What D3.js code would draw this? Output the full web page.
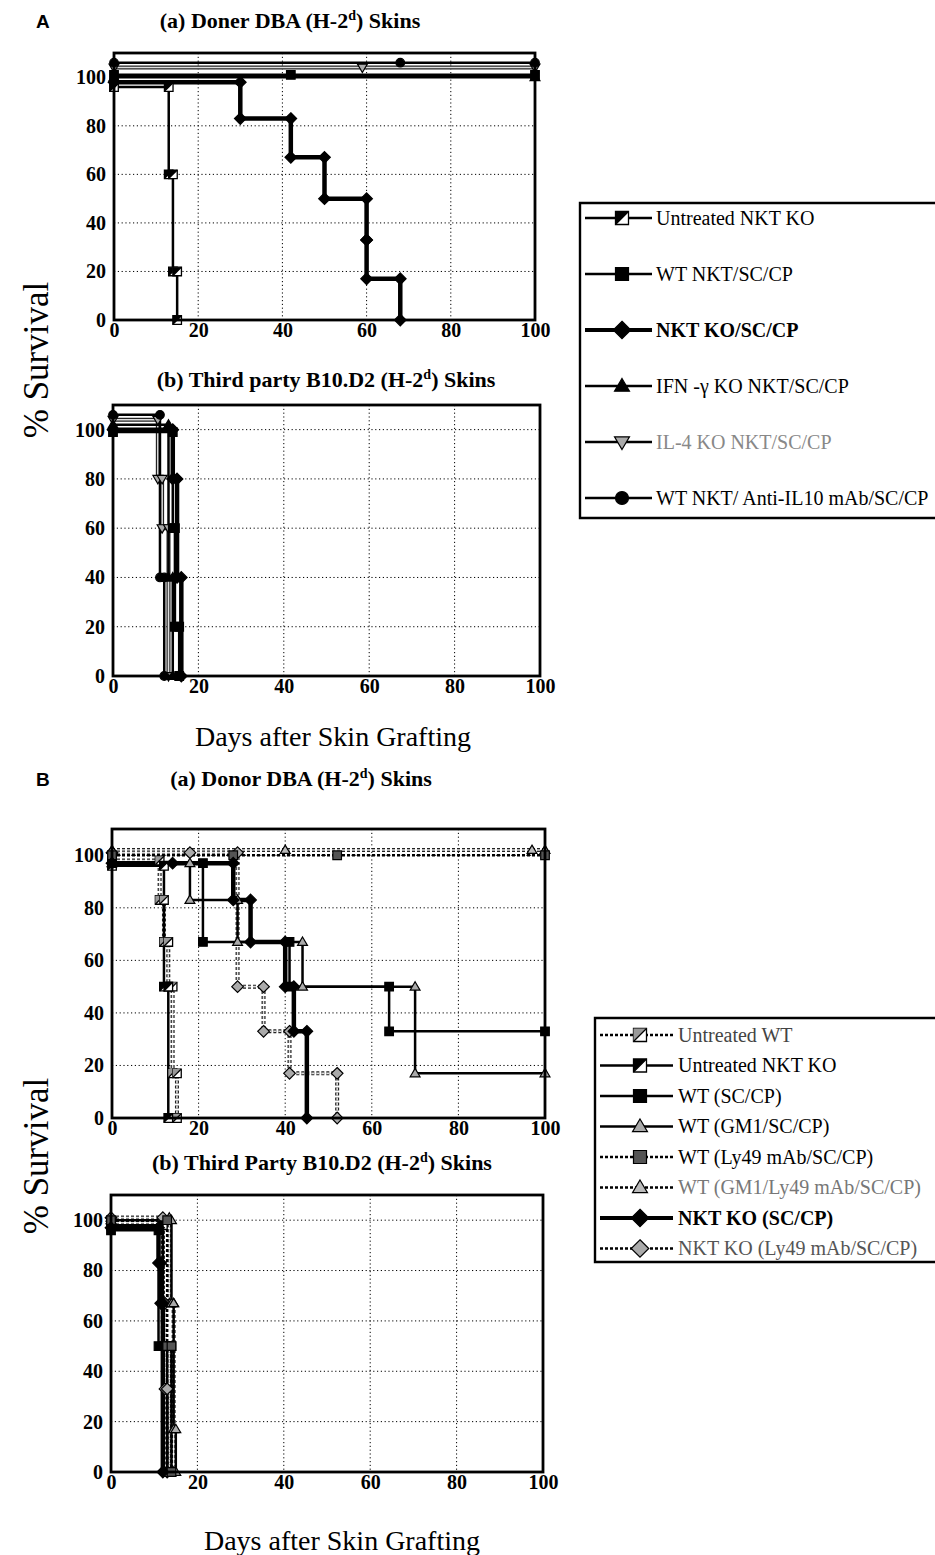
<!DOCTYPE html>
<html>
<head>
<meta charset="utf-8">
<script src="https://cdn.jsdelivr.net/npm/d3@7"></script>
<style>
body { margin: 0; background: #fff; }
svg text { font-family: "Liberation Serif", "Times New Roman", serif; fill: #000; }
.grid line { stroke: #000; stroke-width: 1; stroke-dasharray: 1.2, 2.6; }
</style>
</head>
<body>
<svg id="fig" width="935" height="1555"></svg>
<script>
// axis ticks
const dayTicks = [0, 20, 40, 60, 80, 100];
const survTicks = [0, 20, 40, 60, 80, 100];

// legend names
const namesA = ["Untreated NKT KO", "WT NKT/SC/CP", "NKT KO/SC/CP",
  "IFN -\u03b3 KO NKT/SC/CP", "IL-4 KO NKT/SC/CP", "WT NKT/ Anti-IL10 mAb/SC/CP"];
const namesB = ["Untreated WT", "Untreated NKT KO", "WT (SC/CP)", "WT (GM1/SC/CP)",
  "WT (Ly49 mAb/SC/CP)", "WT (GM1/Ly49 mAb/SC/CP)", "NKT KO (SC/CP)", "NKT KO (Ly49 mAb/SC/CP)"];

// A(a) donor skins: days and % survival at each step, one list per legend entry
const aaDays = [[0, 13, 14, 15], [0, 42, 100], [0, 30, 42, 50, 60, 60, 68], [0, 100], [0, 59, 100], [0, 68, 100]];
const aaSurv = [[96, 60, 20, 0], [101, 101, 101], [98, 83, 67, 50, 33, 17, 0], [100, 100], [104, 104, 104], [106, 106, 106]];
// A(b) third party skins
const abDays = [null, [0, 14, 14.5, 15.5], [0, 14, 15, 16], [0, 13, 14], [0, 10.5, 11.5, 13], [0, 11, 12]];
const abSurv = [null, [99, 60, 20, 0], [100, 80, 40, 0], [102, 40, 0], [104, 80, 60, 0], [106, 40, 0]];
// B(a) donor skins
const baDays = [[0, 11, 12, 13, 14, 15], [0, 12, 13], [0, 21, 41, 64, 100], [0, 18, 29, 44, 70, 100],
  [0, 28, 52, 100], [0, 40, 97, 100], [0, 14, 28, 32, 40, 42, 45], [0, 18, 29, 35, 41, 52]];
const baSurv = [[98, 83, 67, 50, 17, 0], [96, 50, 0], [97, 67, 50, 33, 33], [97, 83, 67, 50, 17, 17],
  [100, 100, 100, 100], [102, 102, 102, 102], [97, 97, 83, 67, 50, 33, 0], [101, 101, 50, 33, 17, 0]];
// B(b) third party skins
const bbDays = [[0, 12, 13.5], [0, 12, 13], [0, 11, 14], [0, 14, 14.5, 15], [0, 13, 14], [0, 13.5, 14.5],
  [0, 11, 11.5, 12], [0, 12, 12.5, 13]];
const bbSurv = [[99, 50, 0], [98, 50, 0], [96, 50, 0], [100, 67, 17, 0], [100, 50, 0], [101, 67, 0],
  [97, 83, 67, 0], [101, 67, 33, 0]];

// series looks
const stylesA = [
  { mark: "half", fill: "#000", w: 2.5 },
  { mark: "square", fill: "#000", w: 2.5 },
  { mark: "diamond", fill: "#000", w: 4.5, bold: true },
  { mark: "triangle", fill: "#000", w: 2.5 },
  { mark: "tridown", fill: "#aaa", w: 2.5, gray: true, text: "#888" },
  { mark: "circle", fill: "#000", w: 2.5 }
];
const stylesB = [
  { mark: "half", fill: "#999", w: 2.5, gray: true, dash: "3,2", text: "#444" },
  { mark: "half", fill: "#000", w: 2.5 },
  { mark: "square", fill: "#000", w: 2.5 },
  { mark: "triangle", fill: "#aaa", w: 2.5 },
  { mark: "square", fill: "#555", w: 2.5, dash: "3,2" },
  { mark: "triangle", fill: "#bbb", w: 2.5, gray: true, dash: "3,2", text: "#777" },
  { mark: "diamond", fill: "#000", w: 4.5, bold: true },
  { mark: "diamond", fill: "#aaa", w: 2.5, gray: true, dash: "3,2", text: "#555" }
];

const svg = d3.select("#fig");

function markerPath(type, s) {
  if (type === "square" || type === "half") return `M${-s},${-s}H${s}V${s}H${-s}Z`;
  if (type === "diamond") { const r = s * 1.35; return `M0,${-r}L${r},0L0,${r}L${-r},0Z`; }
  if (type === "triangle") return `M0,${-s * 1.15}L${s * 1.15},${s * 0.8}L${-s * 1.15},${s * 0.8}Z`;
  if (type === "tridown") return `M0,${s * 1.15}L${s * 1.15},${-s * 0.8}L${-s * 1.15},${-s * 0.8}Z`;
  return `M${-s},0A${s},${s} 0 1,0 ${s},0A${s},${s} 0 1,0 ${-s},0Z`;
}

function drawMarker(g, st, cx, cy, s) {
  const m = g.append("g").attr("transform", `translate(${cx},${cy})`);
  if (st.mark === "half") {
    m.append("path").attr("d", markerPath("square", s)).attr("fill", "#fff").attr("stroke", "#000").attr("stroke-width", 1.3);
    m.append("path").attr("d", `M${-s},${-s}L${s},${-s}L${-s},${s}Z`).attr("fill", st.fill);
    m.append("line").attr("x1", -s).attr("y1", s).attr("x2", s).attr("y2", -s).attr("stroke", "#000").attr("stroke-width", 1.3);
  } else {
    m.append("path").attr("d", markerPath(st.mark, s)).attr("fill", st.fill).attr("stroke", "#000").attr("stroke-width", 1.2);
  }
}

function strokeLine(sel, st) {
  sel.attr("fill", "none").attr("stroke", st.gray ? "#222" : "#000")
    .attr("stroke-width", st.gray ? st.w + 1.5 : st.w)
    .attr("stroke-dasharray", st.dash || null);
}

// corners of the step curve where the markers sit
function corners(ds, ss) {
  const pts = [[ds[0], ss[0]]];
  for (let i = 1; i < ds.length; i++) {
    if (ss[i - 1] !== ss[i]) pts.push([ds[i], ss[i - 1]]);
    pts.push([ds[i], ss[i]]);
  }
  return pts;
}

function drawPanel(p, days, surv, styles) {
  const x = d3.scaleLinear().domain([0, 100]).range([p.left, p.right]);
  const y = d3.scaleLinear().domain([0, 110]).range([p.bottom, p.top]);
  const g = svg.append("g");

  g.append("g").attr("class", "grid").selectAll("line").data(dayTicks.slice(1, -1)).join("line")
    .attr("x1", d => x(d)).attr("x2", d => x(d)).attr("y1", p.top).attr("y2", p.bottom);
  g.append("g").attr("class", "grid").selectAll("line").data(survTicks.slice(1)).join("line")
    .attr("x1", p.left).attr("x2", p.right).attr("y1", d => y(d)).attr("y2", d => y(d));

  const ax = g.append("g").attr("transform", `translate(0,${p.bottom})`)
    .call(d3.axisBottom(x).tickValues(dayTicks).tickSize(0).tickPadding(3));
  const ay = g.append("g").attr("transform", `translate(${p.left},0)`)
    .call(d3.axisLeft(y).tickValues(survTicks).tickSize(0).tickPadding(8));
  [ax, ay].forEach(a => {
    a.select(".domain").remove();
    a.attr("font-family", null).attr("font-size", 20).attr("font-weight", "bold");
  });

  const line = d3.line().x(d => x(d[0])).y(d => y(d[1])).curve(d3.curveStepAfter);
  const order = d3.range(styles.length).sort((a, b) => (styles[b].gray ? 1 : 0) - (styles[a].gray ? 1 : 0) || styles[a].w - styles[b].w);
  order.forEach(i => {
    if (!days[i]) return;
    const pts = days[i].map((d, k) => [d, surv[i][k]]);
    const st = styles[i];
    g.append("path").attr("d", line(pts)).call(strokeLine, st);
    if (st.gray) {
      g.append("path").attr("d", line(pts)).attr("fill", "none").attr("stroke", "#ddd")
        .attr("stroke-width", 1.6).attr("stroke-dasharray", st.dash || null);
    }
  });
  order.forEach(i => {
    if (!days[i]) return;
    corners(days[i], surv[i]).forEach(c => drawMarker(g, styles[i], x(c[0]), y(c[1]), 4.3));
  });

  g.append("rect").attr("x", p.left).attr("y", p.top).attr("width", p.right - p.left).attr("height", p.bottom - p.top)
    .attr("fill", "none").attr("stroke", "#000").attr("stroke-width", 2.8);

  const t = g.append("text").attr("x", p.titleX).attr("y", p.titleY).attr("text-anchor", "middle")
    .attr("font-size", 22).attr("font-weight", "bold");
  t.append("tspan").text(p.title[0]);
  t.append("tspan").attr("dy", -8).attr("font-size", 14).text("d");
  t.append("tspan").attr("dy", 8).text(p.title[1]);
}

function drawLegend(lg, names, styles) {
  const g = svg.append("g");
  g.append("path").attr("d", `M${lg.right},${lg.top}H${lg.left}V${lg.bottom}H${lg.right}`)
    .attr("fill", "none").attr("stroke", "#000").attr("stroke-width", 2.4);
  names.forEach((n, i) => {
    const st = styles[i];
    const cy = lg.y0 + i * lg.step;
    g.append("line").attr("x1", lg.lx0).attr("x2", lg.lx1).attr("y1", cy).attr("y2", cy)
      .call(strokeLine, Object.assign({}, st, { gray: false, w: st.bold ? 3.8 : 2.6 }));
    drawMarker(g, st, lg.mx, cy, 6.5);
    g.append("text").attr("x", lg.tx).attr("y", cy).attr("dy", "0.34em").attr("font-size", lg.fs)
      .attr("font-weight", st.bold ? "bold" : null).style("fill", st.text || "#000").text(n);
  });
}

// panel letters and axis titles
svg.append("text").attr("x", 36).attr("y", 28).attr("font-size", 19).attr("font-weight", "bold")
  .style("font-family", "'Liberation Sans', Arial, sans-serif").text("A");
svg.append("text").attr("x", 36).attr("y", 786).attr("font-size", 19).attr("font-weight", "bold")
  .style("font-family", "'Liberation Sans', Arial, sans-serif").text("B");

drawPanel({ left: 114, right: 535, top: 53, bottom: 320, titleX: 290, titleY: 28, title: ["(a) Doner DBA (H-2", ") Skins"] },
  aaDays, aaSurv, stylesA);
drawPanel({ left: 113, right: 540, top: 405, bottom: 676, titleX: 326, titleY: 387, title: ["(b) Third party B10.D2 (H-2", ") Skins"] },
  abDays, abSurv, stylesA);
drawPanel({ left: 112, right: 545, top: 829, bottom: 1118, titleX: 301, titleY: 786, title: ["(a) Donor DBA (H-2", ") Skins"] },
  baDays, baSurv, stylesB);
drawPanel({ left: 111, right: 543, top: 1195, bottom: 1472, titleX: 322, titleY: 1170, title: ["(b) Third Party B10.D2 (H-2", ") Skins"] },
  bbDays, bbSurv, stylesB);

[[333, 746], [342, 1550]].forEach(([cx, by]) => {
  svg.append("text").attr("x", cx).attr("y", by).attr("text-anchor", "middle").attr("font-size", 28).text("Days after Skin Grafting");
});
[360, 1156].forEach(cy => {
  svg.append("text").attr("transform", `translate(48,${cy}) rotate(-90)`).attr("text-anchor", "middle")
    .attr("font-size", 35).text("% Survival");
});

drawLegend({ left: 580, right: 945, top: 203, bottom: 518, y0: 218, step: 56, lx0: 585, lx1: 652, mx: 622, tx: 656, fs: 20 },
  namesA, stylesA);
drawLegend({ left: 595, right: 945, top: 1018, bottom: 1262, y0: 1035, step: 30.5, lx0: 600, lx1: 673, mx: 640, tx: 678, fs: 20 },
  namesB, stylesB);
</script>
</body>
</html>
